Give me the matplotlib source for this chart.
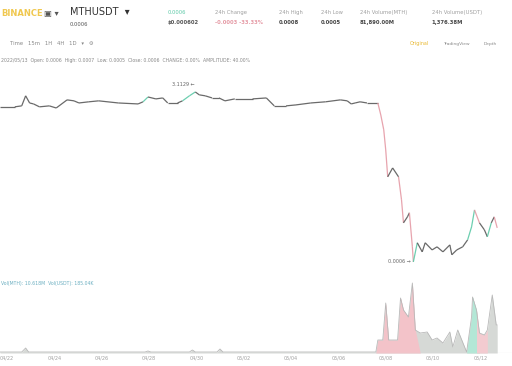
import numpy as np
import matplotlib.pyplot as plt
from matplotlib.collections import LineCollection

# ---------------------------------------------------------------------
# data (time in hours from first date label)

price_t = [-7, 8, 15, 19, 23, 27, 33, 43, 50, 61, 68, 73, 83, 93, 113, 133,
           138, 143, 151, 158, 163, 173, 178, 185, 191, 195, 201, 208, 215,
           221, 231, 249, 263, 271, 283, 293, 308, 323, 338, 345, 349, 353,
           358, 365, 376, 379, 382, 384, 386, 391, 397, 400, 402, 406, 408,
           411, 412, 416, 421, 424, 431, 436, 442, 449, 451, 456, 462, 467,
           471, 474, 479, 484, 487, 491, 494, 497]
price = [81.0, 81.0, 81.5, 86.7, 83.0, 82.5, 81.0, 81.5, 80.4, 84.6, 84.1,
         83.0, 83.6, 84.1, 83.0, 82.5, 83.6, 86.1, 85.1, 85.6, 83.0, 83.0,
         84.1, 86.7, 88.7, 87.2, 86.7, 85.6, 85.6, 84.1, 85.1, 85.1, 85.6,
         81.5, 81.5, 82.0, 83.0, 83.6, 84.6, 84.1, 82.5, 83.0, 83.6, 83.0,
         83.0, 76.8, 69.1, 58.7, 44.8, 49.4, 44.8, 32.9, 21.0, 24.1, 26.2,
         8.6, 0.8, 10.7, 6.0, 10.7, 7.0, 8.6, 6.0, 9.6, 4.5, 7.0, 8.6, 12.2,
         18.9, 27.7, 21.0, 17.4, 13.8, 21.0, 24.1, 18.4]

vol_t = [-7, 15, 19, 22, 140, 143, 146, 185, 188, 191, 213, 216, 219, 374,
         376, 381, 384, 387, 396, 399, 402, 407, 411, 414, 419, 426, 431,
         436, 442, 449, 452, 457, 466, 471, 472, 476, 479, 484, 487, 492,
         496, 497]
volume = [1, 1, 5, 1, 1, 2, 1, 1, 3, 1, 1, 4, 1, 1, 13, 13, 50, 13, 13, 55,
          43, 36, 70, 23, 20, 21, 13, 15, 10, 21, 6, 23, 1, 36, 56, 43, 20,
          18, 23, 58, 28, 28]

tick_t = [0, 48, 96, 144, 192, 240, 288, 336, 384, 432, 480]
tick_labels = ['04/22', '04/24', '04/26', '04/28', '04/30', '05/02',
               '05/04', '05/06', '05/08', '05/10', '05/12']

# ---------------------------------------------------------------------

GREEN = '#5cc9a7'
RED = '#e59aa5'
GRAY = '#5a5a5a'
TXT = '#a0a0a0'

fig = plt.figure(figsize=(5.12, 3.66), dpi=100)
fig.patch.set_facecolor('white')

# price panel
ax = fig.add_axes([0, 0.249, 1, 0.560])
pt = np.array(price_t, dtype=float)
pp = np.array(price, dtype=float)
segs = np.stack([np.column_stack([pt[:-1], pp[:-1]]),
                 np.column_stack([pt[1:], pp[1:]])], axis=1)
diff = np.diff(pp)
cols = [RED if d < -5.5 else (GREEN if d > 5.5 or (pp[i] > 83 and d > 1.9) else GRAY)
        for i, d in enumerate(diff)]
ax.add_collection(LineCollection(segs, colors=cols, linewidths=0.9,
                                 alpha=0.9))
ax.set_xlim(-7, 512)
ax.set_ylim(-5.9, 100.1)
ax.axis('off')

i_hi = int(np.argmax(pp[:40]))
ax.text(pt[i_hi] - 12, pp[i_hi] + 2.5, '3.1129 \u2190', fontsize=3.5,
        color='#666666', ha='center', va='bottom')
i_lo = int(np.argmin(pp))
ax.text(pt[i_lo] - 3, pp[i_lo], '0.0006 \u2192', fontsize=3.5,
        color='#666666', ha='right', va='center')

# volume panel
axv = fig.add_axes([0, 0.0355, 1, 0.1995])
vt = np.array(vol_t, dtype=float)
vv = np.array(volume, dtype=float)
axv.fill_between(vt, 0, vv, color='#d6d9d6', lw=0)
axv.plot(vt, vv, color='#b8b8b8', lw=0.6)
red_zone = (vt >= 374) & (vt <= 414)
axv.fill_between(vt, 0, vv, where=red_zone, color='#f3c3c9', lw=0,
                 interpolate=True)
green_zone = (vt >= 466) & (vt <= 476)
axv.fill_between(vt, 0, vv, where=green_zone, color='#b3e7d6', lw=0,
                 interpolate=True)
red_zone2 = (vt >= 476) & (vt <= 487)
axv.fill_between(vt, 0, vv, where=red_zone2, color='#f3cbd0', lw=0,
                 interpolate=True)
axv.axhline(0, color='#d8d8d8', lw=0.8)
axv.set_xlim(-7, 512)
axv.set_ylim(0, 73)
axv.set_xticks(tick_t)
axv.set_xticklabels(tick_labels, fontsize=3.5, color=TXT)
axv.tick_params(axis='x', length=0, pad=2)
axv.set_yticks([])
for s in axv.spines.values():
    s.set_visible(False)

# header
fig.text(0.002, 0.962, 'BINANCE', fontsize=6, color='#f0c850',
         fontweight='bold', va='center')
fig.text(0.085, 0.962, '\u25a3 \u25be', fontsize=6, color='#555555',
         va='center')
fig.text(0.136, 0.967, 'MTHUSDT  \u25be', fontsize=7, color='#333333',
         va='center')
fig.text(0.136, 0.932, '0.0006', fontsize=3.8, color='#555555', va='center')

stats = [(0.328, '0.0006', '$0.000602', GREEN, '#555555'),
         (0.420, '24h Change', '-0.0003 -33.33%', '#a0a0a0', RED),
         (0.545, '24h High', '0.0008', '#a0a0a0', '#444444'),
         (0.627, '24h Low', '0.0005', '#a0a0a0', '#444444'),
         (0.703, '24h Volume(MTH)', '81,890.00M', '#a0a0a0', '#444444'),
         (0.843, '24h Volume(USDT)', '1,376.38M', '#a0a0a0', '#444444')]
for x, top, bottom, c1, c2 in stats:
    fig.text(x, 0.966, top, fontsize=3.8, color=c1, va='center')
    fig.text(x, 0.938, bottom, fontsize=3.8, color=c2, va='center',
             fontweight='bold')

fig.text(0.02, 0.880, 'Time   15m   1H   4H   1D   \u25be   \u2699',
         fontsize=3.8, color='#888888', va='center')
fig.text(0.80, 0.880, 'Original', fontsize=3.5, color='#e8b830', va='center')
fig.text(0.865, 0.880, 'TradingView', fontsize=3.2, color='#888888',
         va='center')
fig.text(0.945, 0.880, 'Depth', fontsize=3.2, color='#888888', va='center')

fig.text(0.002, 0.836,
         '2022/05/13  Open: 0.0006  High: 0.0007  Low: 0.0005  '
         'Close: 0.0006  CHANGE: 0.00%  AMPLITUDE: 40.00%',
         fontsize=3.3, color='#888888', va='center')
fig.text(0.002, 0.226, 'Vol(MTH): 10.618M  Vol(USDT): 185.04K',
         fontsize=3.3, color='#6aaec0', va='center')

fig.savefig('out.png', dpi=100, facecolor='white')
